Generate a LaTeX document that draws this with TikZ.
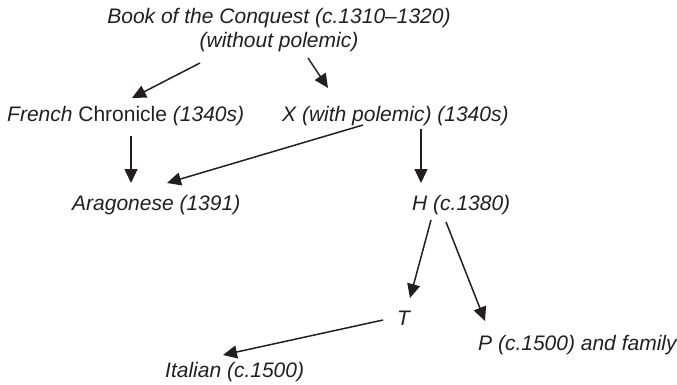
\documentclass[tikz,border=0pt]{standalone}
\usepackage{fontspec}
\setmainfont{Liberation Sans}
\usetikzlibrary{arrows.meta}
\definecolor{ink}{HTML}{231F20}
\tikzset{
  lbl/.style={inner sep=0pt, text=ink, font=\fontsize{21}{24}\selectfont\itshape},
  arr/.style={draw=ink, line width=1.5pt, -{Triangle[length=14pt,width=13pt]}}
}
\begin{document}
\begin{tikzpicture}[x=1pt,y=-1pt]
\useasboundingbox (0,0) rectangle (677,385);
\node[lbl, anchor=base] (b1) at (279,23.5) {Book of the Conquest (c.1310–1320)};
\node[lbl, anchor=base] (b2) at (279,48) {(without polemic)};
\node[lbl, anchor=base west] (fr) at (7,122) {French {\upshape Chronicle} (1340s)};
\node[lbl, anchor=base west] (x) at (282,122) {X (with polemic) (1340s)};
\node[lbl, anchor=base west] (ar) at (72,210) {Aragonese (1391)};
\node[lbl, anchor=base west] (h) at (412,210) {H (c.1380)};
\node[lbl, anchor=base west] (t) at (397,325) {T};
\node[lbl, anchor=base west] (p) at (478,350) {P (c.1500) and family};
\node[lbl, anchor=base west] (it) at (165,377) {Italian (c.1500)};
\draw[arr] ([shift={(-79,15)}]b2.base) -- ([shift={(125,-24)}]fr.base west);
\draw[arr] ([shift={(29,10)}]b2.base) -- ([shift={(46,-34)}]x.base west);
\draw[arr] ([shift={(124,14)}]fr.base west) -- ([shift={(59,-27)}]ar.base west);
\draw[arr] ([shift={(81,3)}]x.base west) -- ([shift={(95,-27)}]ar.base west);
\draw[arr] ([shift={(139,7)}]x.base west) -- ([shift={(9,-27)}]h.base west);
\draw[arr] ([shift={(19,10)}]h.base west) -- ([shift={(13,-27)}]t.base west);
\draw[arr] ([shift={(34,12)}]h.base west) -- ([shift={(7,-29)}]p.base west);
\draw[arr] ([shift={(-14,-5)}]t.base west) -- ([shift={(58,-22)}]it.base west);
\end{tikzpicture}
\end{document}
